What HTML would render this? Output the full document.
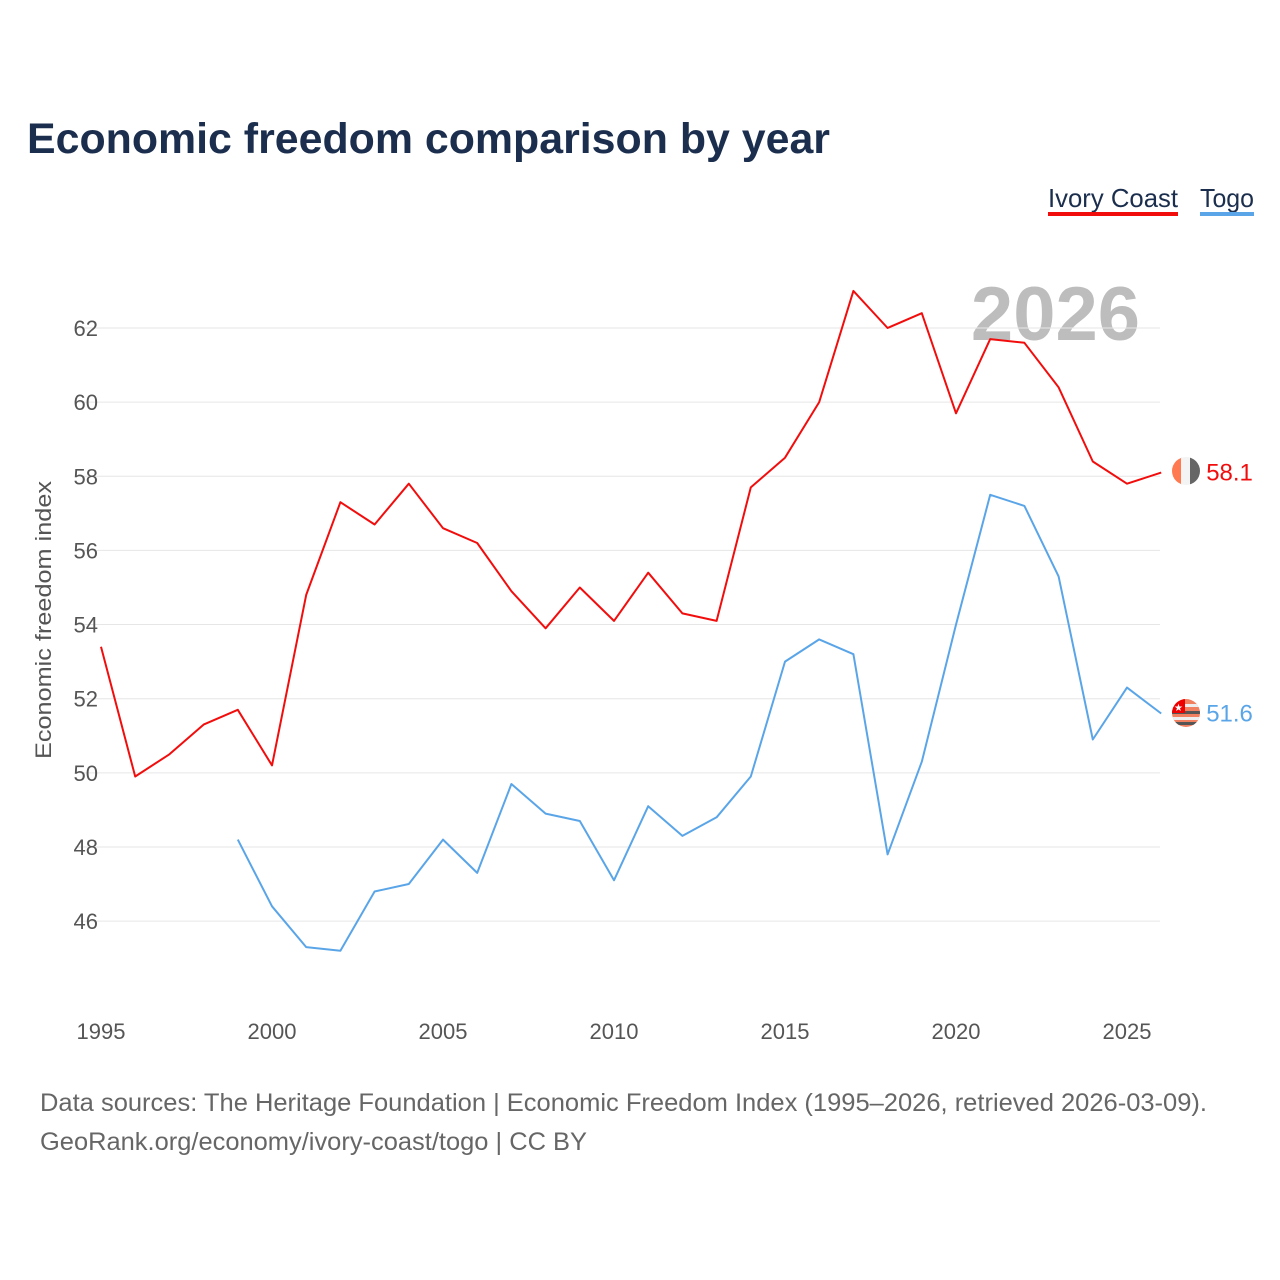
<!DOCTYPE html>
<html><head><meta charset="utf-8"><style>
body{margin:0;width:1280px;height:1280px;background:#fff;font-family:"Liberation Sans",sans-serif;overflow:hidden}
svg{display:block}
</style></head><body>
<svg width="1280" height="1280">
<defs>
<clipPath id="c1"><circle cx="1186" cy="471" r="14"/></clipPath>
<clipPath id="c2"><circle cx="1186" cy="713" r="14"/></clipPath>
</defs>
<text x="27" y="153" font-size="43" font-weight="bold" fill="#1b2e4d" textLength="803" lengthAdjust="spacingAndGlyphs">Economic freedom comparison by year</text>
<g>
<text x="1048" y="207" font-size="26" fill="#1b2e4d" textLength="130" lengthAdjust="spacingAndGlyphs">Ivory Coast</text>
<rect x="1048" y="212" width="130" height="4" fill="#f20d0d"/>
<text x="1200" y="207" font-size="26" fill="#1b2e4d" textLength="54" lengthAdjust="spacingAndGlyphs">Togo</text>
<rect x="1200" y="212" width="54" height="4" fill="#5aa5e8"/>
</g>
<text x="1140" y="340" font-size="76" font-weight="bold" fill="#bdbdbd" text-anchor="end">2026</text>
<g id="grid"></g><g id="axes"></g><g id="series"></g>
<g clip-path="url(#c1)">
<rect x="1172" y="457" width="10" height="28" fill="#ff7a50"/><rect x="1181" y="457" width="10" height="28" fill="#f4f4f4"/><rect x="1190" y="457" width="10" height="28" fill="#666"/>
</g>
<g clip-path="url(#c2)">
<rect x="1172" y="699" width="28" height="28" fill="#f08060"/>
<rect x="1172" y="704" width="28" height="3" fill="#eee"/><rect x="1172" y="711" width="28" height="3" fill="#555"/><rect x="1172" y="717" width="28" height="3" fill="#eee"/><rect x="1172" y="722" width="28" height="3" fill="#555"/>
<rect x="1172" y="699" width="13" height="14" fill="#e00"/>
<text x="1178.5" y="711" font-size="10" fill="#fff" text-anchor="middle">★</text>
</g>
<text transform="translate(51,620) rotate(-90)" font-size="22" fill="#555" text-anchor="middle" textLength="278" lengthAdjust="spacingAndGlyphs">Economic freedom index</text>
<text x="40" y="1111" font-size="25" fill="#666" textLength="1167" lengthAdjust="spacingAndGlyphs">Data sources: The Heritage Foundation | Economic Freedom Index (1995–2026, retrieved 2026-03-09).</text>
<text x="40" y="1150" font-size="25" fill="#666" textLength="547" lengthAdjust="spacingAndGlyphs">GeoRank.org/economy/ivory-coast/togo | CC BY</text>
</svg>
<script>
const years=[1995,1996,1997,1998,1999,2000,2001,2002,2003,2004,2005,2006,2007,2008,2009,2010,2011,2012,2013,2014,2015,2016,2017,2018,2019,2020,2021,2022,2023,2024,2025,2026];
const ivoryCoast=[53.4,49.9,50.5,51.3,51.7,50.2,54.8,57.3,56.7,57.8,56.6,56.2,54.9,53.9,55.0,54.1,55.4,54.3,54.1,57.7,58.5,60.0,63.0,62.0,62.4,59.7,61.7,61.6,60.4,58.4,57.8,58.1];
const togo=[null,null,null,null,48.2,46.4,45.3,45.2,46.8,47.0,48.2,47.3,49.7,48.9,48.7,47.1,49.1,48.3,48.8,49.9,53.0,53.6,53.2,47.8,50.3,54.0,57.5,57.2,55.3,50.9,52.3,51.6];
const yTicks=[46,48,50,52,54,56,58,60,62];
const xTicks=[1995,2000,2005,2010,2015,2020,2025];
const NS="http://www.w3.org/2000/svg";
const xS=y=>101+(y-1995)*34.2;
const yS=v=>328+(62-v)*37.07;
function mk(t,a,p){const e=document.createElementNS(NS,t);for(const k in a)e.setAttribute(k,a[k]);p.appendChild(e);return e;}
const grid=document.getElementById('grid'),axes=document.getElementById('axes'),ser=document.getElementById('series');
yTicks.forEach(v=>{
 const l=mk('line',{x1:75,x2:1160,y1:yS(v),y2:yS(v),stroke:'#e6e6e6','stroke-width':1},grid);
 
 
 const t=mk('text',{x:98,y:yS(v)+8,'font-size':22,fill:'#555','text-anchor':'end'},axes);t.textContent=v;
 
 
});
xTicks.forEach(y=>{
 const t=mk('text',{x:xS(y),y:1039,'font-size':22,fill:'#555','text-anchor':'middle'},axes);t.textContent=y;
 
 
});
function line(vals,color,name){
 let d='';vals.forEach((v,i)=>{if(v==null)return;d+=(d?'L':'M')+xS(years[i]).toFixed(1)+','+yS(v).toFixed(1);});
 const p=mk('path',{d:d,fill:'none',stroke:color,'stroke-width':2,'stroke-linejoin':'round'},ser);
 
 
 const last=vals[vals.length-1],cx=xS(years[years.length-1])+25,cy=yS(last);
 const t=mk('text',{x:cx+20,y:cy+8,'font-size':24,fill:color},ser);t.textContent=last.toFixed(1);
 
 
}
line(ivoryCoast,'#f20d0d','ivory-coast');
line(togo,'#5aa5e8','togo');
</script>
</body></html>
